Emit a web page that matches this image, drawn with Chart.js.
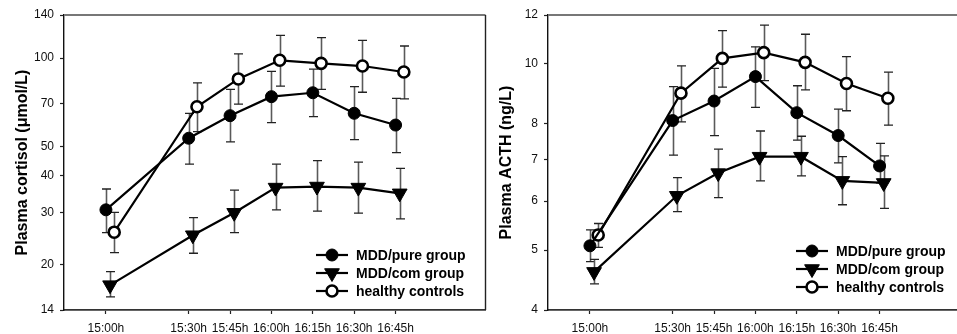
<!DOCTYPE html>
<html>
<head>
<meta charset="utf-8">
<script src="https://cdn.jsdelivr.net/npm/chart.js@4/dist/chart.umd.min.js"></script>
<style>
  html, body { margin:0; padding:0; background:#fff; width:957px; height:334px; overflow:hidden; }
  #wrap { position:relative; width:957px; height:334px; overflow:hidden; }
  canvas { position:absolute; top:0; }
</style>
</head>
<body>
<div id="wrap">
  <canvas id="c1" width="495" height="334" style="left:0px"></canvas>
  <canvas id="c2" width="483" height="334" style="left:496px"></canvas>
</div>
<script>
// ---- data ----
const sampleMinutes = [0, 30, 45, 60, 75, 90, 105]; // minutes after 15:00
const timeLabels = ['15:00h', '15:30h', '15:45h', '16:00h', '16:15h', '16:30h', '16:45h'];
const seriesNames = ['MDD/pure group', 'MDD/com group', 'healthy controls'];

const cortisolTicks = [14, 20, 30, 40, 50, 70, 100, 140];
const cortisolPure      = [30.6, 53.5, 63.8, 74.0, 76.3, 65.0, 59.3];
const cortisolPureHigh  = [36.0, 65.0, 78.4, 90.2, 91.7, 80.0, 73.0];
const cortisolPureLow   = [25.6, 43.7, 52.0, 60.4, 63.3, 52.9, 47.8];
const cortisolCom       = [17.0, 25.1, 29.9, 36.4, 36.7, 36.4, 34.8];
const cortisolComHigh   = [18.9, 28.8, 35.7, 43.7, 44.9, 44.4, 42.3];
const cortisolComLow    = [15.5, 21.8, 25.6, 30.6, 30.3, 29.8, 28.5];
const cortisolHealthy     = [25.7, 68.4, 85.0, 98.3, 96.0, 94.0, 89.7];
const cortisolHealthyHigh = [30.0, 82.4, 103.3, 119.5, 117.3, 114.8, 109.9];
const cortisolHealthyLow  = [21.9, 56.3, 69.8, 80.4, 78.4, 76.6, 72.7];

const acthTicks = [4, 5, 6, 7, 8, 10, 12];
const acthPure      = [5.08, 8.10, 8.71, 9.54, 8.34, 7.66, 6.84];
const acthPureHigh  = [5.39, 9.19, 9.84, 10.66, 9.22, 8.45, 7.44];
const acthPureLow   = [4.79, 7.12, 7.66, 8.51, 7.53, 6.92, 6.42];
const acthCom       = [4.61, 6.12, 6.66, 7.08, 7.08, 6.47, 6.42];
const acthComHigh   = [4.83, 6.55, 7.28, 7.79, 7.64, 7.08, 7.10];
const acthComLow    = [4.41, 5.77, 6.08, 6.47, 6.59, 5.92, 5.84];
const acthHealthy     = [5.29, 8.97, 10.21, 10.43, 10.06, 9.30, 8.80];
const acthHealthyHigh = [5.52, 9.93, 11.32, 11.56, 11.17, 10.28, 9.70];
const acthHealthyLow  = [5.05, 8.06, 9.17, 9.40, 9.08, 8.40, 7.96];

// horizontal dodge (minutes) so the groups do not overlap
const dodge = [0, 1.5, 3];

// ---- styling ----
const FONT = '"Liberation Sans", Arial, Helvetica, sans-serif';
const markerStyles = [
  { pointStyle: 'circle', pointRadius: 6, pointBackgroundColor: '#000', pointBorderColor: '#000', pointBorderWidth: 1, pointRotation: 0 },
  { pointStyle: 'triangle', pointRadius: 8.5, pointBackgroundColor: '#000', pointBorderColor: '#000', pointBorderWidth: 1, pointRotation: 180 },
  { pointStyle: 'circle', pointRadius: 5.5, pointBackgroundColor: '#fff', pointBorderColor: '#000', pointBorderWidth: 2.6, pointRotation: 0 }
];

function makeDataset(idx, values, low, high) {
  return Object.assign({
    label: seriesNames[idx],
    data: values.map((v, i) => ({ x: sampleMinutes[i] + dodge[idx], y: v })),
    errLow: low,
    errHigh: high,
    borderColor: '#000',
    borderWidth: 2.2,
    tension: 0,
    fill: false,
    pointHoverRadius: 6
  }, markerStyles[idx]);
}

const errorBarsPlugin = {
  id: 'errorBars',
  beforeDatasetsDraw(chart) {
    const { ctx, scales: { x, y } } = chart;
    ctx.save();
    chart.data.datasets.forEach(ds => {
      ds.data.forEach((pt, i) => {
        const px = Math.round(x.getPixelForValue(pt.x)) + 0.5;
        const pl = y.getPixelForValue(ds.errLow[i]);
        const ph = y.getPixelForValue(ds.errHigh[i]);
        ctx.strokeStyle = '#5a5a5a';
        ctx.lineWidth = 1.6;
        ctx.beginPath();
        ctx.moveTo(px, pl); ctx.lineTo(px, ph);
        ctx.stroke();
        ctx.strokeStyle = '#222';
        ctx.lineWidth = 1.3;
        ctx.beginPath();
        ctx.moveTo(px - 4.5, ph); ctx.lineTo(px + 4.5, ph);
        ctx.moveTo(px - 4.5, pl); ctx.lineTo(px + 4.5, pl);
        ctx.stroke();
      });
    });
    ctx.restore();
  }
};

const framePlugin = {
  id: 'frame',
  afterDraw(chart, args, opts) {
    const { ctx, chartArea: a } = chart;
    ctx.save();
    ctx.strokeStyle = '#777';
    ctx.lineWidth = 2;
    ctx.beginPath();
    ctx.moveTo(a.left, a.top); ctx.lineTo(opts.rightBorder ? a.right : chart.width, a.top);
    ctx.stroke();
    if (opts.rightBorder) {
      ctx.strokeStyle = '#222';
      ctx.lineWidth = 1.4;
      ctx.beginPath();
      ctx.moveTo(a.right, a.top); ctx.lineTo(a.right, a.bottom);
      ctx.stroke();
    }
    ctx.restore();
  }
};

function drawMarker(ctx, idx, x, y) {
  ctx.save();
  ctx.fillStyle = idx === 2 ? '#fff' : '#000';
  ctx.strokeStyle = '#000';
  if (idx === 1) {
    const r = 8.5;
    ctx.lineWidth = 1;
    ctx.beginPath();
    ctx.moveTo(x, y + r);
    ctx.lineTo(x - r * Math.sqrt(3) / 2, y - r / 2);
    ctx.lineTo(x + r * Math.sqrt(3) / 2, y - r / 2);
    ctx.closePath();
    ctx.fill(); ctx.stroke();
  } else {
    ctx.lineWidth = idx === 2 ? 2.6 : 1;
    ctx.beginPath();
    ctx.arc(x, y, idx === 2 ? 5.5 : 6, 0, Math.PI * 2);
    ctx.fill(); ctx.stroke();
  }
  ctx.restore();
}

const insideLegendPlugin = {
  id: 'insideLegend',
  afterDraw(chart, args, opts) {
    const { ctx } = chart;
    ctx.save();
    chart.data.datasets.forEach((ds, i) => {
      const y = opts.y + i * 18;
      ctx.strokeStyle = '#000';
      ctx.lineWidth = 2.2;
      ctx.beginPath();
      ctx.moveTo(opts.x, y); ctx.lineTo(opts.x + 32, y);
      ctx.stroke();
      drawMarker(ctx, i, opts.x + 16, y);
      ctx.fillStyle = '#000';
      ctx.font = 'bold 14px ' + FONT;
      ctx.textBaseline = 'middle';
      ctx.textAlign = 'left';
      ctx.fillText(ds.label, opts.x + 40, y + 1);
    });
    ctx.restore();
  }
};

function makeChart(id, datasets, yMin, yMax, yTicks, yTitle, yWidth, titlePad, legendPos, rightBorder) {
  return new Chart(document.getElementById(id), {
    type: 'line',
    data: { datasets },
    plugins: [errorBarsPlugin, framePlugin, insideLegendPlugin],
    options: {
      responsive: false,
      animation: false,
      devicePixelRatio: 1,
      layout: { padding: { top: 15, right: 4, left: 0, bottom: 0 } },
      plugins: {
        legend: { display: false },
        tooltip: { enabled: false },
        frame: { rightBorder },
        insideLegend: legendPos
      },
      scales: {
        x: {
          type: 'linear',
          min: -15.2,
          max: 137.6,
          afterBuildTicks: s => { s.ticks = sampleMinutes.map(v => ({ value: v })); },
          afterFit: s => { s.height = 24; },
          ticks: {
            callback: (v) => timeLabels[sampleMinutes.indexOf(v)],
            font: { size: 12, family: FONT },
            color: '#111',
            padding: 7,
            maxRotation: 0,
            autoSkip: false
          },
          grid: { drawOnChartArea: false, drawTicks: true, tickLength: 4, tickColor: '#222', tickWidth: 1.2 },
          border: { color: '#333', width: 1.8 }
        },
        y: {
          type: 'logarithmic',
          min: yMin,
          max: yMax,
          afterBuildTicks: s => { s.ticks = yTicks.map(v => ({ value: v })); },
          afterFit: s => { s.width = yWidth; },
          ticks: {
            callback: v => String(v),
            font: { size: 12, family: FONT },
            color: '#111',
            padding: 6,
            autoSkip: false
          },
          grid: { drawOnChartArea: false, drawTicks: true, tickLength: 4, tickColor: '#222', tickWidth: 1.2 },
          border: { color: '#111', width: 1.4 },
          title: {
            display: true,
            text: yTitle,
            font: { size: 16, weight: 'bold', family: FONT },
            color: '#000',
            padding: { top: titlePad, bottom: 0 }
          }
        }
      }
    }
  });
}

makeChart('c1', [
  makeDataset(0, cortisolPure, cortisolPureLow, cortisolPureHigh),
  makeDataset(1, cortisolCom, cortisolComLow, cortisolComHigh),
  makeDataset(2, cortisolHealthy, cortisolHealthyLow, cortisolHealthyHigh)
], 14, 140, cortisolTicks, 'Plasma cortisol (\u03bcmol/L)', 64, 13, { x: 316, y: 255 }, true);

makeChart('c2', [
  makeDataset(0, acthPure, acthPureLow, acthPureHigh),
  makeDataset(1, acthCom, acthComLow, acthComHigh),
  makeDataset(2, acthHealthy, acthHealthyLow, acthHealthyHigh)
], 4, 12, acthTicks, 'Plasma ACTH (ng/L)', 52, 1, { x: 300, y: 251 }, false);
</script>
</body>
</html>
